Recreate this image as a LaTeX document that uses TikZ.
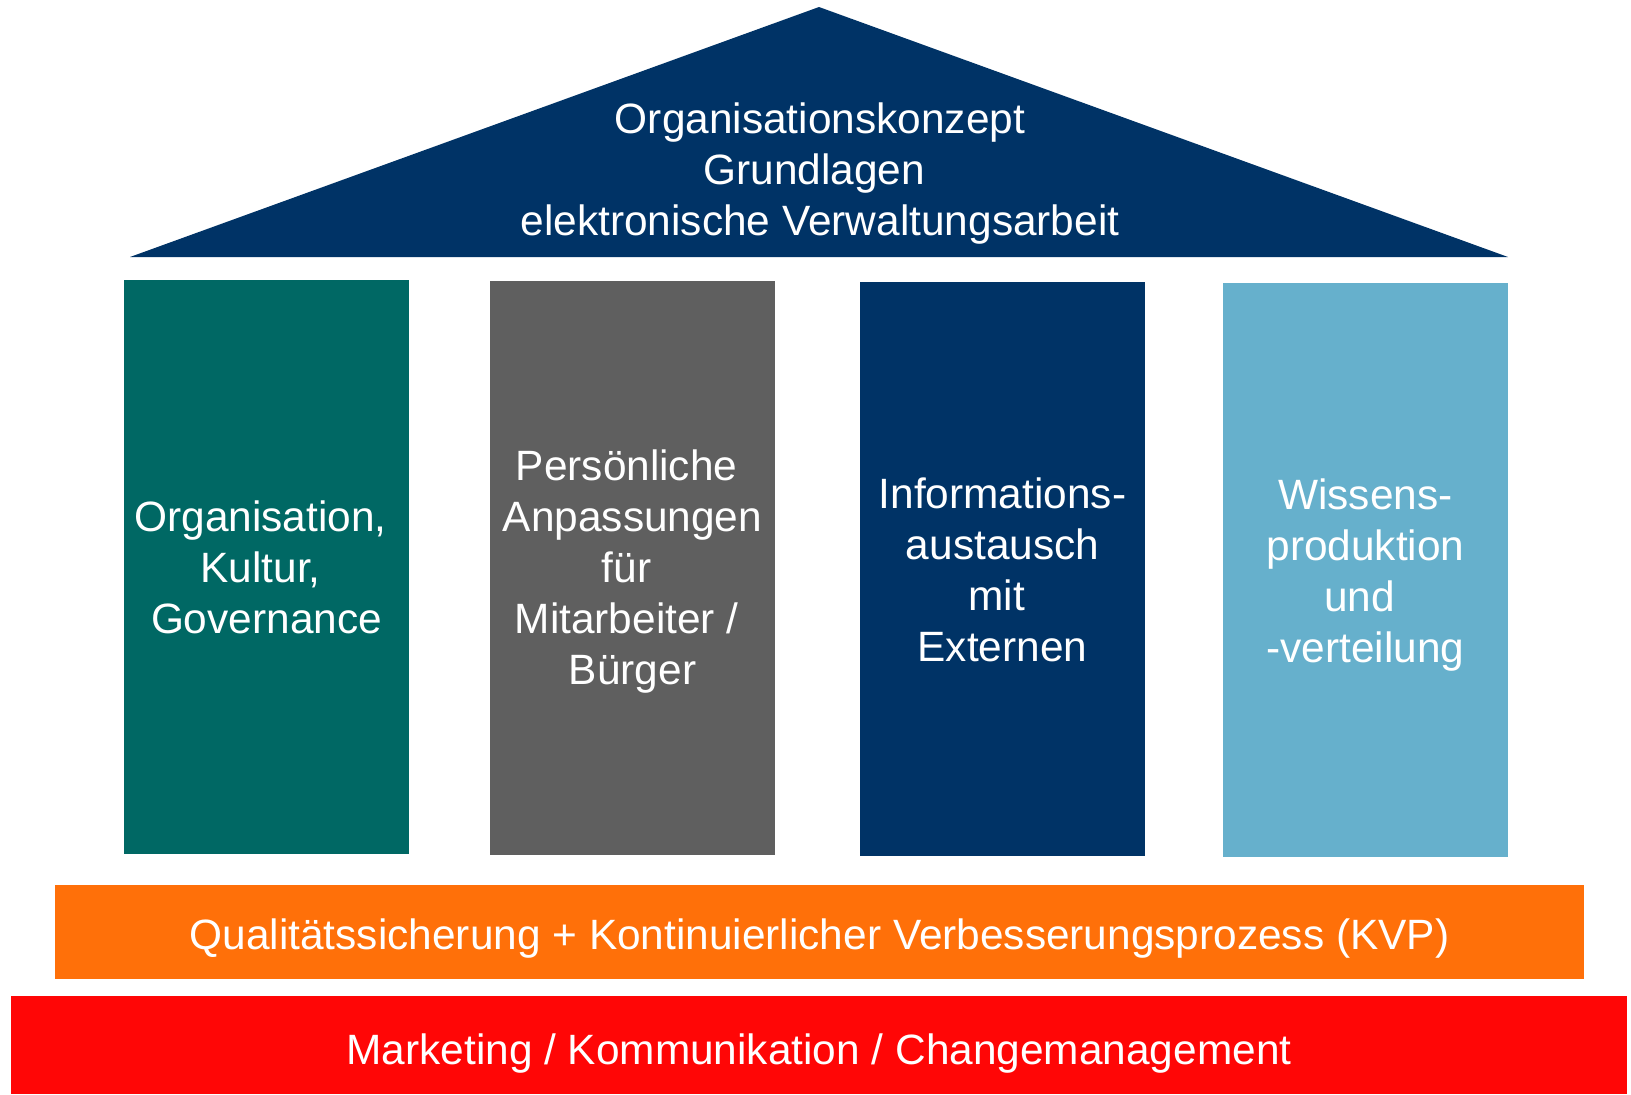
\documentclass[tikz,border=0pt]{standalone}
\usepackage{fontspec}
\setmainfont{Liberation Sans}

\definecolor{roofblue}{HTML}{003366}
\definecolor{pillargreen}{HTML}{006864}
\definecolor{pillargrey}{HTML}{5F5F5F}
\definecolor{pillarblue}{HTML}{003366}
\definecolor{pillarsky}{HTML}{66B0CC}
\definecolor{kvporange}{HTML}{FF7009}
\definecolor{changered}{HTML}{FF0606}

% trailing blank kept at the end of a centred line
\newcommand{\trailsp}{\rule{0.278em}{0pt}}

\begin{document}
\begin{tikzpicture}[x=0.5pt,y=-0.5pt,
    every node/.style={text=white,align=center,inner sep=0pt,
      font=\fontsize{21.2}{25.5}\selectfont}]

    \useasboundingbox (0,0) rectangle (1631,1094);

    % roof
    \fill[roofblue] (130,257) -- (819,7) -- (1508,257) -- cycle;
    \node (roof) at (820,173.5)
      {Organisationskonzept\\Grundlagen\trailsp\\elektronische Verwaltungsarbeit};

    % pillars, left to right
    \fill[pillargreen] (124,280) rectangle (409,854);
    \fill[pillargrey]  (490,281) rectangle (775,855);
    \fill[pillarblue]  (860,282) rectangle (1145,856);
    \fill[pillarsky]   (1223,283) rectangle (1508,857);

    \node (orga)   at (266.5,567.5) {Organisation,\trailsp\\Kultur,\trailsp\\Governance};
    \node (person) at (632.5,572)
      {Persönliche\trailsp\\Anpassungen\\für\trailsp\\Mitarbeiter /\trailsp\\Bürger};
    \node (extern) at (1002.5,570)  {Informations-\\austausch\\mit\trailsp\\Externen};
    \node (wissen) at (1365.5,575.5){Wissens-\\produktion\\und\trailsp\\-verteilung};

    % foundation
    \fill[kvporange] (55,885) rectangle (1584,979);
    \node[anchor=base] (kvp) at (819.5,949)
      {Qualitätssicherung + Kontinuierlicher Verbesserungsprozess (KVP)};

    \fill[changered] (11,996) rectangle (1627,1094);
    \node[anchor=base] (change) at (819,1064)
      {Marketing / Kommunikation / Changemanagement};
\end{tikzpicture}
\end{document}
